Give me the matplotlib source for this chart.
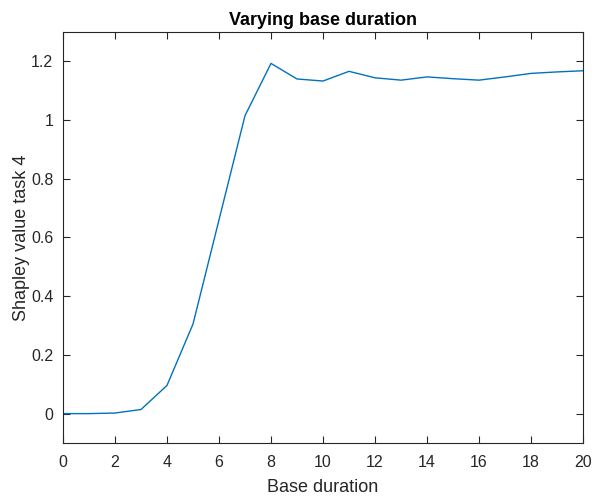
import matplotlib
matplotlib.use('Agg')
import matplotlib.pyplot as plt
from matplotlib.ticker import FuncFormatter

base_duration = [0, 1, 2, 3, 4, 5, 6, 7, 8, 9, 10, 11, 12, 13, 14, 15, 16, 17, 18, 19, 20]
shapley_task4 = [0.0, 0.0, 0.002, 0.014, 0.096, 0.305, 0.66, 1.015, 1.193, 1.140, 1.133,
                 1.166, 1.144, 1.136, 1.147, 1.141, 1.136, 1.147, 1.159, 1.164, 1.168]
xticks = list(range(0, 21, 2))
yticks = [0, 0.2, 0.4, 0.6, 0.8, 1.0, 1.2]

plt.rcParams.update({'font.family': ['Liberation Sans', 'DejaVu Sans'], 'font.size': 11})
gray = '#262626'

fig = plt.figure(figsize=(5.92, 4.97), dpi=100)
ax = fig.add_axes([0.1064, 0.1087, 0.8784, 0.8269])
ax.plot(base_duration, shapley_task4, color='#0072BD', linewidth=1.0)
ax.set_xlim(0, 20)
ax.set_ylim(-0.1, 1.3)
ax.set_xticks(xticks)
ax.set_yticks(yticks)
ax.yaxis.set_major_formatter(FuncFormatter(lambda v, p: '%g' % round(v, 2)))
ax.tick_params(direction='in', length=5, width=0.8, top=True, right=True,
               colors=gray, labelsize=11.5)
ax.tick_params(axis='x', pad=9)
ax.tick_params(axis='y', pad=7)
for s in ax.spines.values():
    s.set_color(gray); s.set_linewidth(0.8)
ax.set_xlabel('Base duration', fontsize=13, color=gray, labelpad=6)
ax.set_ylabel('Shapley value task 4', fontsize=13, color=gray, labelpad=1)
ax.set_title('Varying base duration', fontsize=13, fontweight='bold', color='black', pad=5)
fig.savefig('out.png', dpi=100)
